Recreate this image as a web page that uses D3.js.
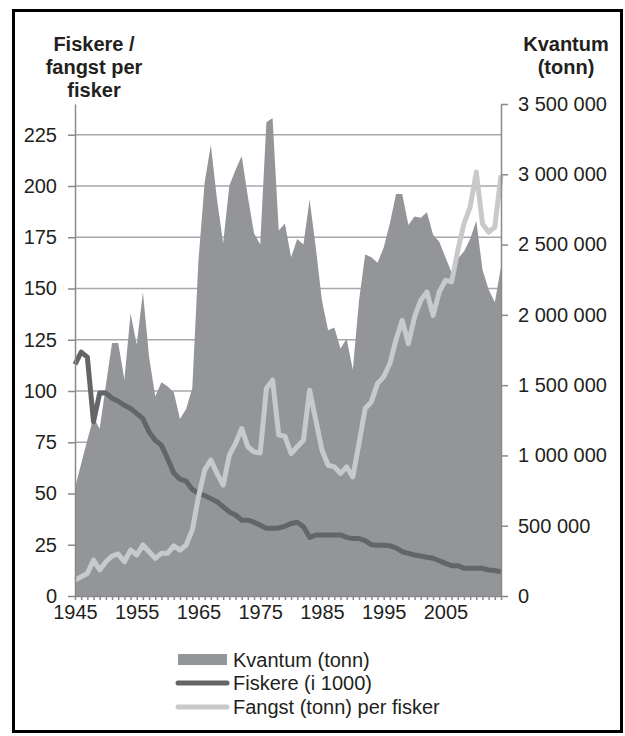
<!DOCTYPE html>
<html lang="no">
<head>
    <meta charset="UTF-8">
    <script src="https://d3js.org/d3.v7.min.js"></script>
    <title>Fiskere og kvantum</title>
    <style>
        body { margin: 0; background: #fff; }
        svg { display: block; font-family: "Liberation Sans", Arial, sans-serif; }
        .axis text { font-size: 20px; fill: #231f20; }
        .axis path, .axis line { stroke: #8a8a8c; stroke-width: 1.5; }
        .title { font-size: 20px; font-weight: bold; fill: #231f20; }
        .legend text { font-size: 20px; fill: #231f20; }
    </style>
</head>
<body>
<script>
    // år 1945-2014
    const years = d3.range(1945, 2015);

    // Kvantum (tonn)
    const kvantum = [
        770000, 940000, 1110000, 1270000, 1190000, 1500000, 1800000, 1800000, 1540000, 2010000,
        1790000, 2160000, 1700000, 1420000, 1520000, 1490000, 1450000, 1260000, 1330000, 1480000,
        2390000, 2940000, 3210000, 2820000, 2510000, 2920000, 3030000, 3130000, 2840000, 2580000,
        2500000, 3370000, 3400000, 2600000, 2650000, 2410000, 2540000, 2500000, 2820000, 2480000,
        2100000, 1890000, 1910000, 1760000, 1830000, 1610000, 2100000, 2430000, 2410000, 2370000,
        2480000, 2650000, 2860000, 2860000, 2640000, 2700000, 2690000, 2730000, 2570000, 2520000,
        2410000, 2300000, 2400000, 2450000, 2540000, 2670000, 2320000, 2180000, 2090000, 2340000
    ];

    // Fiskere (i 1000)
    const fiskere = [
        113, 119, 116.5, 85, 99, 99, 96.5, 95, 93, 91.5,
        89, 86.5, 80, 76, 73.5, 67, 60, 57, 56, 52,
        50, 49, 47.5, 46, 43.5, 41, 39.5, 37, 37, 36,
        34.5, 33, 33, 33.2, 34, 35.4, 36, 33.8, 28.6, 29.7,
        29.8, 29.8, 29.8, 29.8, 28.6, 28, 28, 27, 25, 24.7,
        24.7, 24.5, 23.5, 21.6, 20.8, 20, 19.5, 18.9, 18.4, 17.2,
        15.9, 14.8, 14.8, 13.5, 13.5, 13.5, 13.5, 12.7, 12.4, 11.8
    ];

    // Fangst (tonn) per fisker
    const fangst = [
        7.8, 9.4, 11, 17.5, 12.7, 16.7, 19.5, 20.5, 16.7, 22.4,
        20, 24.9, 21.6, 18.4, 20.8, 20.8, 24.5, 22.4, 24.9, 32.2,
        48.4, 61.4, 66.3, 59.8, 54.1, 68.7, 74.4, 81.7, 72.8, 70.3,
        69.8, 101.2, 105.3, 78.5, 78, 69.5, 72.8, 76, 100.4, 85.8,
        71.2, 63.8, 63, 59.8, 63, 58.1, 74.4, 91.5, 94.7, 103.7,
        106.9, 113.4, 125, 134.5, 123.1, 136.1, 144.2, 148.3, 136.9, 148.3,
        154, 153.2, 168.6, 181.6, 189.7, 206.8, 181.6, 177.5, 180, 205.2
    ];

    const leftTicks = d3.range(0, 226, 25);
    const rightTicks = d3.range(0, 3500001, 500000);
    const yearLabels = d3.range(1945, 2006, 10);

    const legendItems = ["Kvantum (tonn)", "Fiskere (i 1000)", "Fangst (tonn) per fisker"];

    const width = 625;
    const height = 736;
    const plot = {left: 75, right: 501, top: 104, bottom: 596};

    const colArea = "#939598";
    const colDark = "#646567";
    const colLight = "#c8c9cb";

    const data = years.map((y, i) => ({year: y, k: kvantum[i], f: fiskere[i], p: fangst[i]}));

    const x = d3.scaleLinear()
        .domain([years[0], years[years.length - 1]])
        .range([plot.left, plot.right]);

    const yL = d3.scaleLinear()
        .domain([0, 240])
        .range([plot.bottom, plot.top]);

    const yR = d3.scaleLinear()
        .domain([0, 3500000])
        .range([plot.bottom, plot.top]);

    const nb = d3.formatLocale({decimal: ",", thousands: " ", grouping: [3], currency: ["", " kr"]});
    const fmt = nb.format(",");

    const svg = d3.select("body").append("svg")
        .attr("width", width)
        .attr("height", height);

    // ramme
    svg.append("rect")
        .attr("x", 13.5).attr("y", 10.5)
        .attr("width", 608).attr("height", 721)
        .attr("fill", "none")
        .attr("stroke", "#000")
        .attr("stroke-width", 3);

    // rutenett
    svg.append("g")
        .selectAll("line")
        .data(leftTicks.filter(d => d > 0))
        .join("line")
        .attr("x1", plot.left).attr("x2", plot.right)
        .attr("y1", d => yL(d)).attr("y2", d => yL(d))
        .attr("stroke", "#a7a8aa")
        .attr("stroke-width", 1.5);

    // kvantum
    svg.append("path")
        .datum(data)
        .attr("fill", colArea)
        .attr("d", d3.area()
            .x(d => x(d.year))
            .y0(yR(0))
            .y1(d => yR(d.k)));

    svg.append("path")
        .datum(data)
        .attr("fill", "none")
        .attr("stroke", colDark)
        .attr("stroke-width", 5)
        .attr("stroke-linejoin", "round")
        .attr("d", d3.line().x(d => x(d.year)).y(d => yL(d.f)));

    svg.append("path")
        .datum(data)
        .attr("fill", "none")
        .attr("stroke", colLight)
        .attr("stroke-width", 5)
        .attr("stroke-linejoin", "round")
        .attr("d", d3.line().x(d => x(d.year)).y(d => yL(d.p)));

    // akser
    svg.append("g")
        .attr("class", "axis")
        .attr("transform", `translate(${plot.left},0)`)
        .call(d3.axisLeft(yL).tickValues(leftTicks).tickSize(7).tickSizeOuter(0).tickPadding(11));

    svg.append("g")
        .attr("class", "axis")
        .attr("transform", `translate(${plot.right},0)`)
        .call(d3.axisRight(yR).tickValues(rightTicks).tickSize(7).tickSizeOuter(0).tickPadding(10).tickFormat(fmt));

    svg.append("g")
        .attr("class", "axis")
        .attr("transform", `translate(0,${plot.bottom})`)
        .call(d3.axisBottom(x).tickValues(years).tickSize(4).tickSizeOuter(0).tickPadding(5)
            .tickFormat(d => yearLabels.includes(d) ? d : ""));

    // titler
    svg.append("text").attr("class", "title")
        .attr("text-anchor", "middle")
        .selectAll("tspan")
        .data(["Fiskere /", "fangst per", "fisker"])
        .join("tspan")
        .attr("x", 94)
        .attr("y", (d, i) => 51 + i * 23)
        .text(d => d);

    svg.append("text").attr("class", "title")
        .attr("text-anchor", "middle")
        .selectAll("tspan")
        .data(["Kvantum", "(tonn)"])
        .join("tspan")
        .attr("x", 566)
        .attr("y", (d, i) => 51 + i * 23)
        .text(d => d);

    // forklaring
    const legend = svg.append("g").attr("class", "legend");
    const legY = [660, 683, 707];

    legend.append("rect")
        .attr("x", 178).attr("y", legY[0] - 6)
        .attr("width", 49).attr("height", 11)
        .attr("fill", colArea);
    legend.append("line")
        .attr("x1", 178).attr("x2", 227)
        .attr("y1", legY[1]).attr("y2", legY[1])
        .attr("stroke", colDark).attr("stroke-width", 5).attr("stroke-linecap", "round");
    legend.append("line")
        .attr("x1", 178).attr("x2", 227)
        .attr("y1", legY[2]).attr("y2", legY[2])
        .attr("stroke", colLight).attr("stroke-width", 5).attr("stroke-linecap", "round");

    legend.selectAll("text")
        .data(legendItems)
        .join("text")
        .attr("x", 233)
        .attr("y", (d, i) => legY[i] + 7)
        .text(d => d);
</script>
</body>
</html>
